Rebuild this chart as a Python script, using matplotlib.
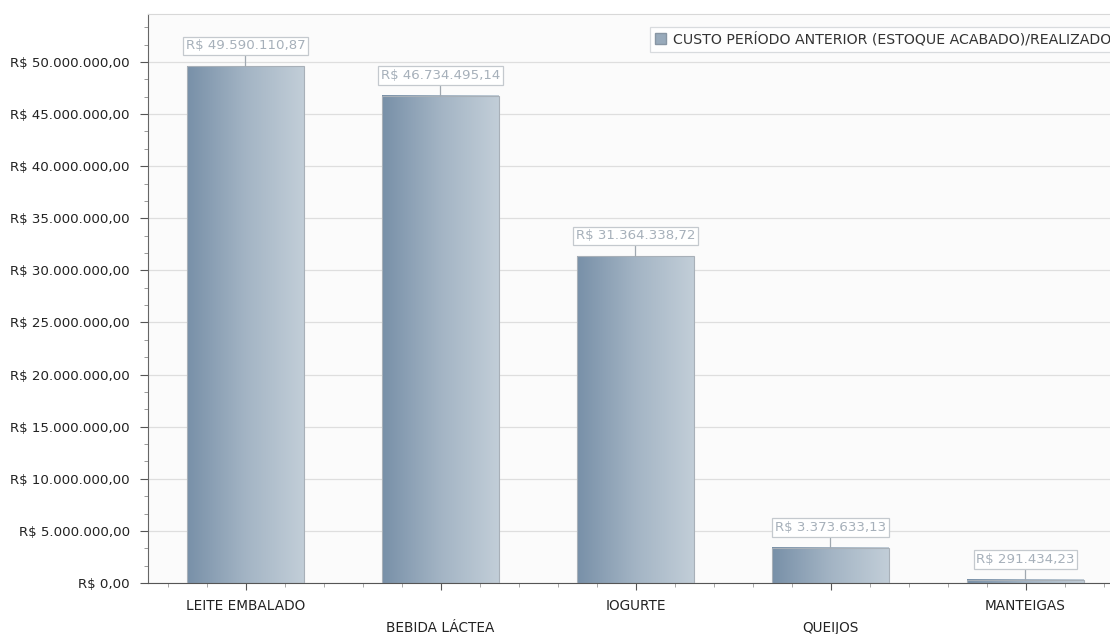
import numpy as np
import matplotlib.pyplot as plt
from matplotlib.colors import LinearSegmentedColormap
from matplotlib.patches import Patch
from matplotlib.ticker import MultipleLocator, FuncFormatter

categories = ["LEITE EMBALADO", "BEBIDA LÁCTEA", "IOGURTE", "QUEIJOS", "MANTEIGAS"]
values = [49590110.87, 46734495.14, 31364338.72, 3373633.13, 291434.23]
series_name = "CUSTO PERÍODO ANTERIOR (ESTOQUE ACABADO)/REALIZADO"


def brl(v, pos=None):
    s = f"{v:,.2f}".replace(",", "X").replace(".", ",").replace("X", ".")
    return "R$ " + s


plt.rcParams['font.family'] = ['DejaVu Sans']
fig = plt.figure(figsize=(11.1, 6.34), dpi=100)
ax = fig.add_axes([148 / 1110, 51 / 634, 975 / 1110, 569 / 634])
ax.set_facecolor("#fbfbfb")

cmap = LinearSegmentedColormap.from_list("bar", ["#7890a8", "#a3b4c4", "#c2ced8"])
grad = np.linspace(0, 1, 256).reshape(1, -1)
width = 0.6
x = np.arange(len(categories))
for xi, v in zip(x, values):
    ax.imshow(grad, cmap=cmap, aspect="auto", zorder=2,
              extent=[xi - width / 2, xi + width / 2, 0, v])
ax.bar(x, values, width=width, facecolor="none", edgecolor="#a8b0b8",
       linewidth=0.8, zorder=3)

for xi, v in zip(x, values):
    ax.annotate(brl(v), xy=(xi, v), xytext=(0, 10), textcoords="offset points",
                ha="center", va="bottom", fontsize=9.6, color="#a6b0ba", zorder=5,
                bbox=dict(boxstyle="square,pad=0.2", fc="white", ec="#c4c9ce", lw=0.9),
                arrowprops=dict(arrowstyle="-", color="#a0a8b0", lw=0.9,
                                shrinkA=0, shrinkB=0))

ax.set_xlim(-0.5, len(categories) - 0.5)
ax.set_ylim(0, 54.6e6)
ax.yaxis.set_major_locator(MultipleLocator(5e6))
ax.yaxis.set_minor_locator(MultipleLocator(5e6 / 3))
ax.yaxis.set_major_formatter(FuncFormatter(brl))
ax.xaxis.set_minor_locator(MultipleLocator(0.2))
ax.set_xticks(x)
ax.set_xticklabels([])
ax.grid(axis="y", color="#dedede", linewidth=0.9, zorder=0)
ax.set_axisbelow(True)

ax.tick_params(axis="y", which="major", length=6, color="#555555", labelsize=9.6,
               labelcolor="#222222", pad=7)
ax.tick_params(axis="y", which="minor", length=3, color="#888888")
ax.tick_params(axis="x", which="major", length=5, color="#555555")
ax.tick_params(axis="x", which="minor", length=3, color="#999999")

for i, (xi, c) in enumerate(zip(x, categories)):
    ax.annotate(c, xy=(xi, 0), xycoords=("data", "axes fraction"),
                xytext=(0, -16.5 if i % 2 == 0 else -32.4), textcoords="offset points",
                ha="center", va="center", fontsize=9.8, color="#222222")

ax.spines["left"].set_color("#666666")
ax.spines["bottom"].set_color("#555555")
ax.spines["top"].set_color("#d8d8d8")
ax.spines["right"].set_visible(False)

leg = fig.legend(handles=[Patch(facecolor="#98aabb", edgecolor="#8896a4", label=series_name)],
                 loc="upper left", bbox_to_anchor=(643 / 1110, 1 - 20 / 634),
                 fontsize=10.2, frameon=True, fancybox=False, handlelength=0.8,
                 handleheight=0.8, borderpad=0.35, handletextpad=0.5)
leg.get_frame().set_edgecolor("#cfd3d7")
leg.get_frame().set_linewidth(0.9)
for t in leg.get_texts():
    t.set_color("#333333")

fig.savefig("out.png", dpi=100)
